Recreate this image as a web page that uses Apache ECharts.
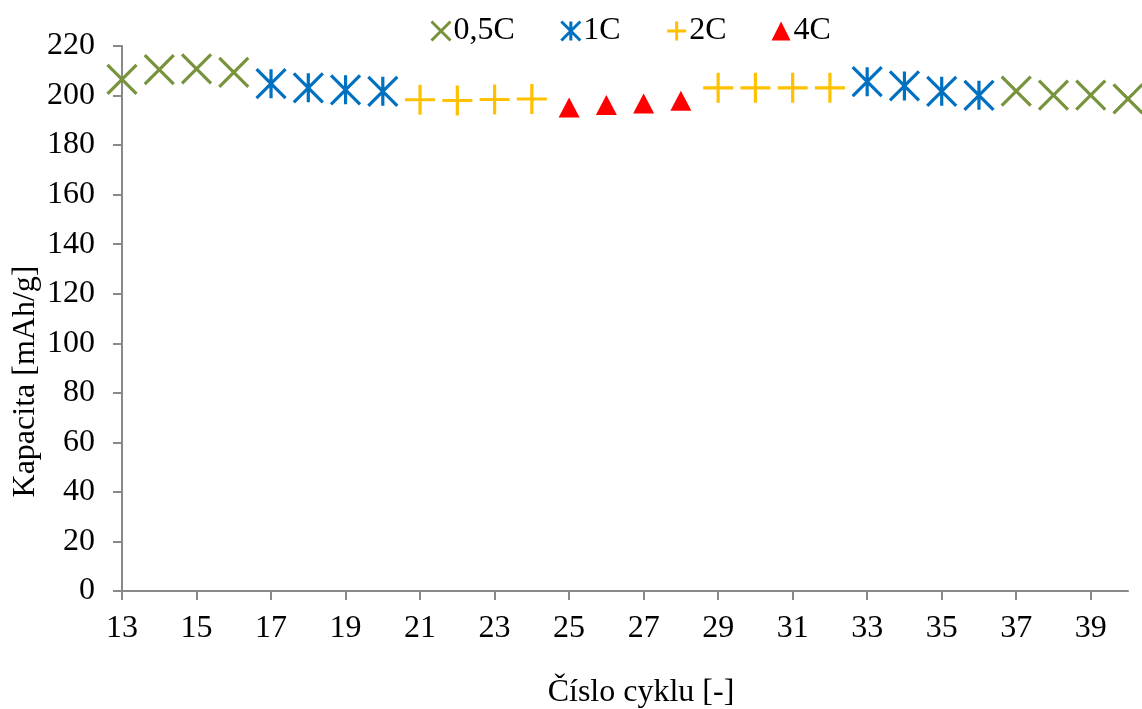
<!DOCTYPE html>
<html>
<head>
<meta charset="utf-8">
<script src="https://cdn.jsdelivr.net/npm/echarts@6/dist/echarts.min.js"></script>
<style>
  html, body { margin: 0; padding: 0; background: #ffffff; overflow: hidden; }
  #chart { width: 1142px; height: 709px; }
</style>
</head>
<body>
<div id="chart"></div>
<script>
// Cycle numbers on the horizontal axis
const cycles = ['13','14','15','16','17','18','19','20','21','22','23','24','25','26','27','28',
                '29','30','31','32','33','34','35','36','37','38','39','40'];

// Discharge capacity [mAh/g] per cycle for each C-rate (null = cycle run at another rate)
const rate05C = [206.5, 210.5, 210.8, 209.4, null, null, null, null, null, null, null, null, null, null,
                 null, null, null, null, null, null, null, null, null, null, 201.8, 200.2, 200.2, 198.7];
const rate1C  = [null, null, null, null, 204.8, 203.1, 202.3, 201.7, null, null, null, null, null, null,
                 null, null, null, null, null, null, 205.6, 203.9, 201.7, 200.1, null, null, null, null];
const rate2C  = [null, null, null, null, null, null, null, null, 198.3, 198.0, 198.4, 198.6, null, null,
                 null, null, 203.1, 203.1, 203.1, 203.1, null, null, null, null, null, null, null, null];
const rate4C  = [null, null, null, null, null, null, null, null, null, null, null, null, 195.2, 196.2,
                 196.8, 197.9, null, null, null, null, null, null, null, null, null, null, null, null];

const seriesNames = ['0,5C', '1C', '2C', '4C'];
const yTicks = { min: 0, max: 220, step: 20 };

// Marker outlines drawn as stroked paths
const SYM_X = 'path://M0,0L10,10M10,0L0,10';
const SYM_STAR = 'path://M5,0L5,10M0,0L10,10M10,0L0,10';
const SYM_PLUS = 'path://M5,0L5,10M0,5L10,5';

const FONT = 'Liberation Serif, Times New Roman, serif';
const FS = 32;

const COLORS = ['#77933C', '#0070C0', '#FFC000', '#FF0000'];

function toPoints(values) {
  return cycles.map((c, i) => [c, values[i]]).filter(p => p[1] !== null);
}

const chart = echarts.init(document.getElementById('chart'), null, { renderer: 'canvas' });

const strokeSeries = (name, values, symbol, color, size) => ({
  name: name,
  type: 'scatter',
  data: toPoints(values),
  symbol: symbol,
  symbolSize: size,
  clip: false,
  itemStyle: { color: 'rgba(0,0,0,0)', borderColor: color, borderWidth: 3.2, opacity: 1 },
  emphasis: { disabled: true }
});

const strokeLegend = (name, color) => ({
  name: name,
  itemStyle: { color: 'rgba(0,0,0,0)', borderColor: color, borderWidth: 3, opacity: 1 }
});

chart.setOption({
  animation: false,
  backgroundColor: '#ffffff',
  textStyle: { fontFamily: FONT, color: '#000000' },
  legend: {
    top: 10,
    left: 425,
    itemWidth: 19,
    itemHeight: 19,
    itemGap: 45,
    textStyle: { fontFamily: FONT, fontSize: FS, color: '#000000', padding: [0, 0, 0, -2] },
    data: [
      strokeLegend(seriesNames[0], COLORS[0]),
      strokeLegend(seriesNames[1], COLORS[1]),
      strokeLegend(seriesNames[2], COLORS[2]),
      { name: seriesNames[3], itemStyle: { color: COLORS[3], borderWidth: 0, opacity: 1 } }
    ]
  },
  grid: { left: 122, right: 14, top: 46, bottom: 118, containLabel: false, outerBoundsMode: 'none' },
  xAxis: {
    type: 'category',
    data: cycles,
    boundaryGap: false,
    name: 'Číslo cyklu [-]',
    nameLocation: 'middle',
    nameGap: 86,
    nameMoveOverlap: false,
    nameTextStyle: { fontFamily: FONT, fontSize: FS, color: '#000000', padding: [0, 0, 0, 32] },
    axisLine: { lineStyle: { color: '#898989', width: 2 } },
    axisTick: { length: 9, interval: (i) => i % 2 === 0, lineStyle: { color: '#898989', width: 2 } },
    axisLabel: { interval: (i) => i % 2 === 0, margin: 22, fontFamily: FONT, fontSize: FS, color: '#000000' },
    splitLine: { show: false }
  },
  yAxis: {
    type: 'value',
    min: yTicks.min,
    max: yTicks.max,
    interval: yTicks.step,
    name: 'Kapacita [mAh/g]',
    nameLocation: 'middle',
    nameGap: 80,
    nameMoveOverlap: false,
    nameTextStyle: { fontFamily: FONT, fontSize: FS, color: '#000000', padding: [0, 126, 0, 0] },
    axisLine: { show: true, lineStyle: { color: '#898989', width: 2 } },
    axisTick: { show: true, length: 9, lineStyle: { color: '#898989', width: 2 } },
    axisLabel: { margin: 27, fontFamily: FONT, fontSize: FS, color: '#000000' },
    splitLine: { show: false }
  },
  series: [
    strokeSeries(seriesNames[0], rate05C, SYM_X, COLORS[0], 29),
    strokeSeries(seriesNames[1], rate1C, SYM_STAR, COLORS[1], 29),
    strokeSeries(seriesNames[2], rate2C, SYM_PLUS, COLORS[2], 30),
    {
      name: seriesNames[3],
      type: 'scatter',
      data: toPoints(rate4C),
      symbol: 'triangle',
      symbolSize: [21, 20],
      clip: false,
      itemStyle: { color: COLORS[3], opacity: 1 },
      emphasis: { disabled: true }
    }
  ]
});
</script>
</body>
</html>
